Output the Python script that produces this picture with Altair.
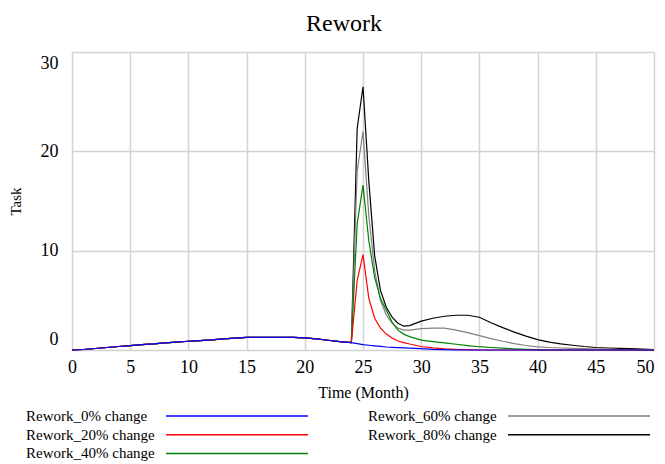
import altair as alt
import pandas as pd

FONT = "Liberation Serif"

time = [0, 1, 2, 3, 4, 5, 6, 7, 8, 9, 10, 11, 12, 13, 14, 15, 16, 17, 18, 19, 20, 21, 22, 23, 24,
        24.5, 25, 25.5, 26, 26.5, 27, 27.5, 28, 28.5, 29,
        30, 31, 32, 33, 34, 35, 36, 37, 38, 39, 40, 41, 42, 43, 44, 45, 46, 47, 48, 49, 50]

rework_0 = [0, 0.05, 0.15, 0.25, 0.35, 0.45, 0.55, 0.62, 0.72, 0.8, 0.88, 0.95, 1.02, 1.12, 1.2,
            1.27, 1.27, 1.27, 1.27, 1.27, 1.22, 1.12, 0.98, 0.85, 0.75,
            0.65, 0.55, 0.48, 0.42, 0.36, 0.3, 0.27, 0.24, 0.21, 0.18,
            0.14, 0.07, 0.03, 0, 0, 0, 0, 0, 0, 0, 0, 0, 0, 0, 0, 0, 0, 0, 0, 0, 0]

rework_20 = [0, 0.05, 0.15, 0.25, 0.35, 0.45, 0.55, 0.62, 0.72, 0.8, 0.88, 0.95, 1.02, 1.12, 1.2,
             1.27, 1.27, 1.27, 1.27, 1.27, 1.22, 1.12, 0.98, 0.85, 0.75,
             7.0, 9.6, 5.2, 3.2, 2.2, 1.6, 1.2, 0.9, 0.75, 0.6,
             0.35, 0.22, 0.12, 0.06, 0.03, 0, 0, 0, 0, 0, 0, 0, 0, 0, 0, 0, 0, 0, 0, 0, 0]

rework_40 = [0, 0.05, 0.15, 0.25, 0.35, 0.45, 0.55, 0.62, 0.72, 0.8, 0.88, 0.95, 1.02, 1.12, 1.2,
             1.27, 1.27, 1.27, 1.27, 1.27, 1.22, 1.12, 0.98, 0.85, 0.75,
             12.7, 16.6, 11.0, 7.3, 5.2, 4.0, 2.8, 2.0, 1.6, 1.35,
             1.0, 0.85, 0.72, 0.58, 0.45, 0.33, 0.25, 0.18, 0.12, 0.07, 0.03, 0, 0, 0, 0, 0, 0, 0, 0, 0, 0]

rework_60 = [0, 0.05, 0.15, 0.25, 0.35, 0.45, 0.55, 0.62, 0.72, 0.8, 0.88, 0.95, 1.02, 1.12, 1.2,
             1.27, 1.27, 1.27, 1.27, 1.27, 1.22, 1.12, 0.98, 0.85, 0.75,
             18.0, 22.0, 13.5, 8.0, 5.0, 3.5, 2.7, 2.2, 2.0, 2.0,
             2.15, 2.2, 2.2, 2.0, 1.75, 1.45, 1.15, 0.88, 0.65, 0.45, 0.32, 0.25, 0.2, 0.17, 0.13, 0.1,
             0.08, 0.05, 0.03, 0.02, 0.01]

rework_80 = [0, 0.05, 0.15, 0.25, 0.35, 0.45, 0.55, 0.62, 0.72, 0.8, 0.88, 0.95, 1.02, 1.12, 1.2,
             1.27, 1.27, 1.27, 1.27, 1.27, 1.22, 1.12, 0.98, 0.85, 0.75,
             22.3, 26.5, 17.0, 9.5, 6.0, 4.3, 3.3, 2.7, 2.4, 2.45,
             2.9, 3.2, 3.4, 3.5, 3.5, 3.3, 2.75, 2.25, 1.8, 1.4, 1.05, 0.8, 0.62, 0.48, 0.35, 0.25,
             0.2, 0.17, 0.14, 0.1, 0.05]

series_names = ["Rework_0% change", "Rework_20% change", "Rework_40% change",
                "Rework_60% change", "Rework_80% change"]
series_values = [rework_0, rework_20, rework_40, rework_60, rework_80]
series_colors = ["#0000ff", "#ff0000", "#008000", "#808080", "#000000"]

# build rows with the 80% series first so the 0% series is drawn on top
rows = []
for name, vals in reversed(list(zip(series_names, series_values))):
    for t, v in zip(time, vals):
        rows.append({"Time": t, "Task": v, "Series": name})
df = pd.DataFrame(rows)

# legend table: column-major, three rows per column
legend_rows = []
for i, name in enumerate(series_names):
    legend_rows.append({"Series": name, "col": i // 3, "row": i % 3})
legend_df = pd.DataFrame(legend_rows)

color_scale = alt.Scale(domain=series_names, range=series_colors)

lines = alt.Chart(df).mark_line(strokeWidth=1.2, interpolate="linear").encode(
    x=alt.X("Time:Q",
            scale=alt.Scale(domain=[0, 50], nice=False, zero=False),
            axis=alt.Axis(title="Time (Month)", values=list(range(0, 51, 5)),
                          labelFontSize=18, labelFont=FONT, labelPadding=8,
                          labelFlush=False,
                          labelAlign={"condition": {"test": "datum.value >= 50", "value": "right"},
                                      "value": "center"},
                          titleFont=FONT, titleFontSize=16, titleFontWeight="normal",
                          titlePadding=8, ticks=False, domain=False,
                          gridColor="#d3d3d3", gridWidth=1.5, labelColor="black",
                          titleColor="black")),
    y=alt.Y("Task:Q",
            scale=alt.Scale(domain=[0, 30], nice=False),
            axis=alt.Axis(title="Task", values=[0, 10, 20, 30],
                          labelFontSize=18, labelFont=FONT, labelPadding=14,
                          labelFlush=True, labelFlushOffset=-2,
                          titleFont=FONT, titleFontSize=15, titleFontWeight="normal",
                          titlePadding=17, ticks=False, domain=False,
                          gridColor="#d3d3d3", gridWidth=1.5, labelColor="black",
                          titleColor="black")),
    color=alt.Color("Series:N", scale=color_scale, legend=None),
)

leg_x = alt.X("col:Q", scale=alt.Scale(domain=[0, 1], range=[-46, 296]), axis=None)
leg_y = alt.Y("row:Q", scale=alt.Scale(domain=[0, 2], range=[364, 401.4]), axis=None)

legend_text = alt.Chart(legend_df).mark_text(
    align="left", baseline="middle", font=FONT, fontSize=15, color="black"
).encode(x=leg_x, y=leg_y, text="Series:N")

legend_lines = alt.Chart(legend_df).mark_rule(
    strokeWidth=1.5, xOffset=140, x2Offset=282
).encode(
    x=leg_x, x2="col:Q", y=leg_y,
    color=alt.Color("Series:N", scale=color_scale, legend=None),
)

chart = alt.layer(lines, legend_text, legend_lines).resolve_scale(
    x="independent", y="independent"
).properties(
    width=582,
    height=298,
    title=alt.TitleParams("Rework", font=FONT, fontSize=24, fontWeight="normal",
                          color="black", anchor="middle", dx=-19, offset=16),
    autosize=alt.AutoSizeParams(type="none"),
    padding={"left": 64, "top": 44, "right": 3, "bottom": 112},
).configure_view(
    stroke="black", strokeWidth=2
).configure(background="white")

chart.save("out.html", embed_options={"renderer": "svg", "actions": False})
